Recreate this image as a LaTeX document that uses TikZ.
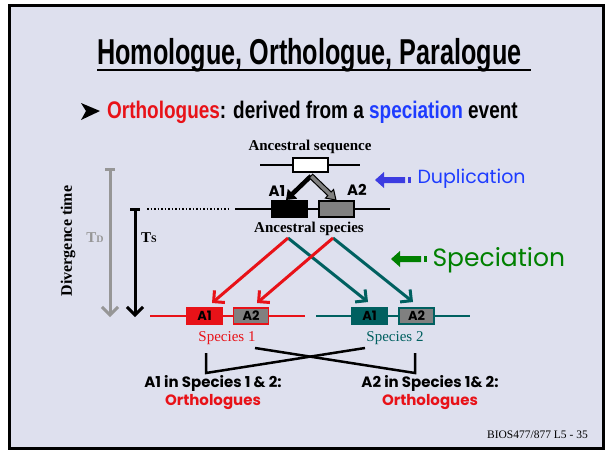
\documentclass[tikz,border=0pt]{standalone}
\usepackage{fontspec}
\usepackage{graphicx}
\setmainfont{Liberation Serif}
\newfontfamily\headfont{Liberation Sans}
\newfontfamily\handfont{Poppins}
\usetikzlibrary{arrows.meta,calc}

\definecolor{slidebg}{RGB}{222,224,238}
\definecolor{orthored}{RGB}{232,18,24}
\definecolor{specblue}{RGB}{30,60,255}
\definecolor{dupblue}{RGB}{60,60,225}
\definecolor{spgreen}{RGB}{0,128,0}
\definecolor{teal2}{RGB}{0,96,96}
\definecolor{genegray}{RGB}{128,128,128}
\definecolor{timegray}{RGB}{150,150,150}

\tikzset{
  seqline/.style={line width=2},
  genebox/.style={draw=black, line width=1.5, minimum width=35, minimum height=16, inner sep=0pt},
  genelabel/.style={font=\handfont\bfseries\fontsize{13}{13}\selectfont},
  boldserif/.style={font=\bfseries\fontsize{15}{17}\selectfont},
  specarrow/.style={line width=3, -{Straight Barb[length=8,width=16,line width=3]}},
  timearrow/.style={line width=3, {Bar[width=10,line width=2.5]}-{Straight Barb[length=8,width=16,line width=3]}},
  bracket/.style={line width=2.5},
  handtext/.style={font=\handfont\bfseries\fontsize{15}{17}\selectfont},
}

\begin{document}
\begin{tikzpicture}[x=1pt,y=-1pt]
\useasboundingbox (0,0) rectangle (610,453);
\fill[white] (0,0) rectangle (610,453);
\draw[line width=3, fill=slidebg] (9.5,5.5) rectangle (603,448);

% heading and bullet
\node[anchor=base west, inner sep=0pt] (title) at (97,64)
  {\headfont\bfseries\fontsize{36}{40}\selectfont\scalebox{0.70}[1]{Homologue, Orthologue, Paralogue}};
\coordinate (ul1) at (97,70);
\coordinate (ul2) at (531,70);
\draw[line width=2.5] (ul1) -- (ul2);

\fill (81,103) -- (100,111) -- (81,120) -- (86,111) -- cycle;
\node[anchor=base west, inner sep=0pt] (bullet) at (107,118)
  {\headfont\bfseries\fontsize{24}{28}\selectfont\scalebox{0.79}[1]{\textcolor{orthored}{Orthologues}: derived from a \textcolor{specblue}{speciation} event}};

% ancestral sequence
\node[boldserif] (anseq) at (310,147) {Ancestral sequence};
\coordinate (sl) at (260,165);
\coordinate (sr) at (360,165);
\draw[seqline] (sl) -- (sr);
\node[genebox, fill=white, minimum height=14] (seqbox) at (310.5,165) {};

% duplication chevron
\coordinate (apex) at (311,176);
\coordinate (dupA) at (286,200);
\draw[line width=4.5, -{Triangle[length=9,width=13]}] (apex) -- (dupA);
\filldraw[fill=genegray, draw=black, line width=1]
  (309.3,177.8) -- (312.7,174.2) -- (331.2,192) -- (333.6,189.5) -- (336,200)
  -- (325.4,198.1) -- (327.8,195.6) -- cycle;

\node[genelabel, font=\handfont\bfseries\fontsize{15}{15}\selectfont] (lA1) at (277,191) {A1};
\node[genelabel, font=\handfont\bfseries\fontsize{15}{15}\selectfont] (lA2) at (357,190) {A2};

% ancestral species
\coordinate (al) at (235,209);
\coordinate (ar) at (390,209);
\coordinate (dl) at (147,209);
\coordinate (dr) at (230,209);
\draw[seqline] (al) -- (ar);
\draw[line width=1.5, dotted] (dl) -- (dr);
\node[genebox, fill=black] (anA1) at (289.5,209) {};
\node[genebox, fill=genegray] (anA2) at (336.5,209) {};
\node[boldserif] (anspec) at (309,229) {Ancestral species};

% speciation lines
\coordinate (s1) at (288,238);
\coordinate (s2) at (333,238);
\coordinate (t1) at (212,303);
\coordinate (t2) at (257,303);
\coordinate (t3) at (368,302);
\coordinate (t4) at (413,302);
\draw[specarrow, teal2] (s1) -- (t3);
\draw[specarrow, teal2] (s2) -- (t4);
\draw[specarrow, orthored] (s1) -- (t1);
\draw[specarrow, orthored] (s2) -- (t2);

% species 1
\coordinate (r1) at (150,316);
\coordinate (r2) at (305,316);
\draw[seqline, orthored] (r1) -- (r2);
\node[genebox, draw=orthored, fill=orthored, genelabel] (sp1A1) at (204.5,316) {A1};
\node[genebox, draw=orthored, fill=genegray, genelabel] (sp1A2) at (251,316) {A2};
\node[text=orthored, font=\fontsize{15}{17}\selectfont] (sp1) at (227,338) {Species 1};

% species 2
\coordinate (g1) at (316,316);
\coordinate (g2) at (470,316);
\draw[seqline, teal2] (g1) -- (g2);
\node[genebox, draw=teal2, fill=teal2, genelabel] (sp2A1) at (369.5,316) {A1};
\node[genebox, draw=teal2, fill=genegray, genelabel] (sp2A2) at (416.5,316) {A2};
\node[text=teal2, font=\fontsize{15}{17}\selectfont] (sp2) at (395,338) {Species 2};

% crossed brackets
\coordinate (b1) at (206,353);
\coordinate (b2) at (206,373);
\coordinate (b3) at (365,348);
\coordinate (c1) at (415,353);
\coordinate (c2) at (415,373);
\coordinate (c3) at (255,348);
\draw[bracket] (b1) -- (b2) -- (b3);
\draw[bracket] (c1) -- (c2) -- (c3);

\node[handtext] (left1) at (213,383) {A1 in Species 1 \& 2:};
\node[handtext, text=orthored] (left2) at (213,402) {Orthologues};
\node[handtext] (right1) at (430,383) {A2 in Species 1\& 2:};
\node[handtext, text=orthored] (right2) at (430,402) {Orthologues};

% divergence time axis
\node[boldserif, font=\bfseries\fontsize{16}{18}\selectfont, rotate=90] (divt) at (68,241) {Divergence time};
\coordinate (td1) at (110,168);
\coordinate (td2) at (110,317);
\coordinate (ts1) at (135,208);
\coordinate (ts2) at (135,317);
\draw[timearrow, timegray] (td1) -- (td2);
\draw[timearrow, black] (ts1) -- (ts2);
\node[text=timegray, font=\bfseries\fontsize{15}{15}\selectfont] (tdl) at (95,238) {T\fontsize{10}{10}\selectfont D};
\node[font=\bfseries\fontsize{15}{15}\selectfont] (tsl) at (149,238) {T\fontsize{10}{10}\selectfont S};

% event labels
\fill[dupblue] (375,180) -- (384,172) -- (384,177) -- (405,177) -- (405,183) -- (384,183) -- (384,188) -- cycle;
\fill[dupblue] (408,177) rectangle (411,183);
\node[anchor=west, text=specblue, font=\handfont\fontsize{19}{22}\selectfont] (dup) at (414,179) {Duplication};

\fill[spgreen] (391,259) -- (400,251) -- (400,256) -- (421,256) -- (421,262) -- (400,262) -- (400,267) -- cycle;
\fill[spgreen] (424,256) rectangle (427,262);
\node[anchor=west, text=spgreen, font=\handfont\fontsize{25}{29}\selectfont] (spec) at (429,260) {Speciation};

% footer
\node[anchor=base east, font=\fontsize{11.5}{13}\selectfont, inner sep=0pt] (foot) at (588,438) {BIOS477/877 L5 - 35};
\end{tikzpicture}
\end{document}
